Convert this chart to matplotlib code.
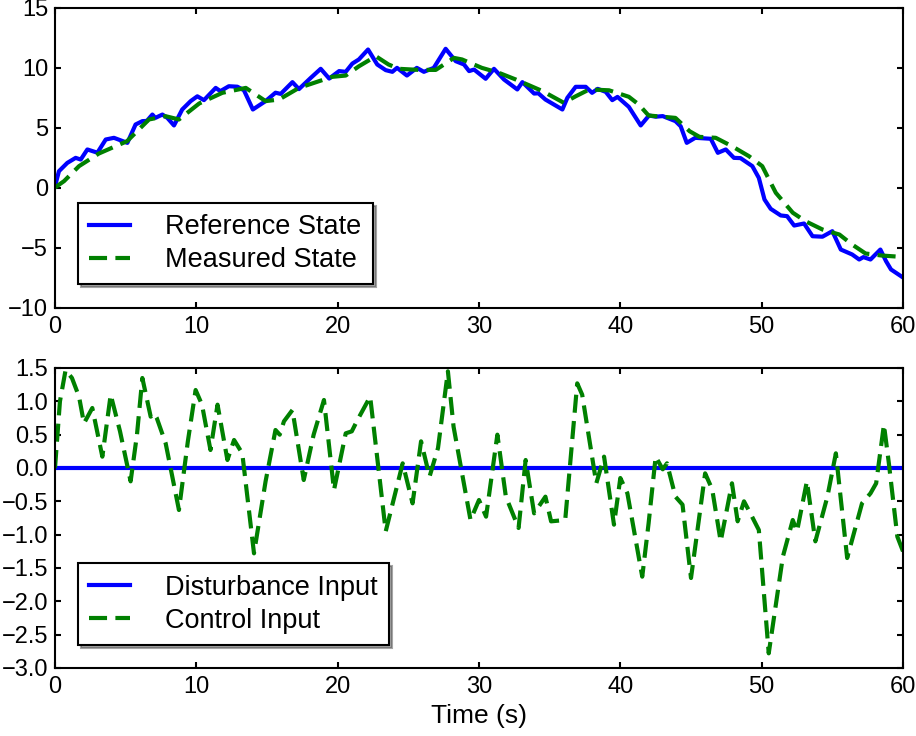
import matplotlib
matplotlib.use("Agg")
import matplotlib.pyplot as plt

# reference / measured state (time in s)
t_ref = [0.0, 0.28, 0.87, 1.46, 1.82, 2.29, 3.0, 3.59, 4.17, 5.12, 5.7, 6.18, 6.5,
         6.89, 7.1, 7.6, 7.95, 8.42, 9.0, 9.6, 10.07, 10.54, 11.37, 11.7, 12.3,
         12.9, 13.37, 14.0, 14.9, 15.6, 15.97, 16.8, 17.26, 18.1, 18.8, 19.4,
         20.1, 20.57, 21.04, 21.5, 22.15, 22.8, 23.4, 23.87, 24.2, 24.9, 25.6,
         26.1, 26.8, 27.64, 28.35, 28.94, 29.3, 29.65, 30.47, 31.06, 31.77,
         32.71, 33.07, 33.9, 34.2, 34.7, 35.9, 36.25, 36.84, 37.55, 38.0, 38.4,
         38.97, 39.43, 39.8, 40.6, 41.44, 42.03, 42.5, 43.0, 43.9, 44.27, 44.7,
         45.3, 46.4, 46.9, 47.46, 48.04, 48.5, 49.34, 49.8, 50.2, 50.64, 51.35,
         51.8, 52.3, 53.0, 53.6, 54.3, 55.0, 55.6, 56.4, 56.9, 57.2, 57.7, 58.4,
         58.8, 59.15, 60.0]
ref_state = [0.1, 1.36, 2.05, 2.47, 2.33, 3.17, 2.9, 4.0, 4.14, 3.72, 5.25, 5.53,
             5.55, 6.08, 5.8, 6.08, 5.8, 5.17, 6.5, 7.2, 7.6, 7.28, 8.3, 8.03, 8.44,
             8.4, 8.1, 6.5, 7.2, 7.9, 7.8, 8.78, 8.2, 9.14, 9.89, 9.08, 9.7, 9.64,
             10.33, 10.67, 11.5, 10.25, 9.78, 9.64, 9.97, 9.33, 9.97, 9.64, 9.97,
             11.56, 10.53, 10.25, 9.7, 9.83, 9.06, 9.89, 9.0, 8.17, 8.78, 7.83,
             7.85, 7.33, 6.5, 7.47, 8.39, 8.39, 7.89, 8.22, 7.97, 7.28, 7.55, 6.72,
             5.17, 6.0, 5.9, 5.95, 5.53, 5.1, 3.72, 4.14, 4.06, 2.89, 3.17, 2.47,
             2.45, 1.78, 0.8, -1.0, -1.78, -2.33, -2.39, -3.17, -3.0, -4.06, -4.1,
             -3.64, -5.17, -5.58, -6.0, -5.8, -6.0, -5.17, -6.14, -6.83, -7.5]

t_meas = [0.0, 0.64, 1.7, 3.1, 5.1, 6.65, 7.83, 8.77, 10.2, 11.84, 13.5, 14.2,
          14.9, 15.85, 17.26, 18.68, 19.6, 20.57, 21.5, 22.7, 23.6, 24.34, 25.76,
          26.94, 28.23, 28.8, 30.2, 31.4, 32.6, 34.5, 36.0, 36.84, 37.8, 39.2,
          40.6, 41.3, 42.0, 43.9, 44.9, 45.6, 46.75, 47.9, 49.1, 50.04, 51.0,
          52.2, 53.1, 54.3, 55.5, 56.4, 57.35, 58.5, 59.5, 60.0]
meas_state = [0.0, 0.53, 1.78, 2.83, 3.86, 5.67, 5.94, 5.67, 7.0, 7.89, 8.3, 7.75,
              7.2, 7.33, 8.3, 8.86, 9.22, 9.33, 10.1, 10.94, 10.25, 9.89, 9.8, 9.8,
              10.8, 10.67, 9.97, 9.56, 9.0, 8.03, 7.06, 7.6, 8.17, 8.1, 7.56, 6.92,
              6.0, 5.8, 4.69, 4.22, 4.14, 3.44, 2.61, 1.78, -0.44, -2.1, -2.81, -3.5,
              -3.92, -4.75, -5.5, -5.67, -5.75, -5.9]

# disturbance / control input
t_dist = [0.0, 60.0]
dist_input = [0.0, 0.0]

t_ctrl = [0.0, 0.35, 0.75, 1.2, 1.7, 2.05, 2.64, 3.35, 3.94, 4.6, 5.35, 5.8, 6.18,
          6.77, 7.0, 7.2, 7.83, 8.77, 9.4, 9.95, 10.4, 11.0, 11.5, 12.2, 12.67,
          13.25, 14.08, 14.9, 15.6, 15.9, 16.2, 16.8, 17.6, 18.3, 19.03, 19.74,
          20.57, 21.0, 21.4, 22.3, 23.4, 24.6, 25.3, 25.9, 26.5, 27.1, 27.8, 28.2,
          29.4, 30.0, 30.5, 31.3, 31.9, 32.8, 33.3, 33.9, 34.7, 35.1, 36.1, 36.95,
          37.3, 38.3, 38.85, 39.55, 40.0, 40.5, 41.55, 42.0, 42.5, 43.0, 43.3, 43.9,
          44.4, 45.0, 46.0, 46.5, 47.1, 47.9, 48.3, 48.75, 49.2, 49.8, 50.5, 51.5,
          52.2, 52.5, 53.2, 53.8, 54.65, 55.25, 56.05, 57.1, 57.7, 58.1, 58.65,
          59.0, 59.6, 60.0]
ctrl_input = [0.0, 1.0, 1.47, 1.35, 1.07, 0.67, 0.9, 0.17, 1.1, 0.55, -0.2, 0.5,
              1.35, 0.77, 0.82, 0.75, 0.37, -0.63, 0.4, 1.17, 0.95, 0.27, 0.95, 0.12,
              0.42, 0.22, -1.28, -0.2, 0.57, 0.5, 0.7, 0.87, -0.18, 0.5, 1.02, -0.33,
              0.52, 0.55, 0.72, 1.07, -0.95, 0.07, -0.53, 0.4, -0.13, 0.3, 1.45, 0.62,
              -0.78, -0.48, -0.73, 0.5, -0.43, -0.9, 0.12, -0.68, -0.43, -0.8, -0.78,
              1.27, 1.1, -0.23, 0.17, -0.85, -0.15, -0.38, -1.63, -0.83, 0.17, -0.02,
              0.07, -0.43, -0.55, -1.65, -0.08, -0.32, -1.1, -0.23, -0.8, -0.5, -0.68,
              -0.93, -2.78, -1.33, -0.78, -0.95, -0.2, -1.1, -0.43, 0.22, -1.35,
              -0.53, -0.38, -0.23, 0.65, 0.07, -1.03, -1.25]

plt.rcParams['font.family'] = ['Liberation Sans', 'DejaVu Sans']
plt.rcParams['lines.scale_dashes'] = False
plt.rcParams['lines.solid_joinstyle'] = 'round'
plt.rcParams['lines.dash_joinstyle'] = 'round'
plt.rcParams['xtick.direction'] = 'in'
plt.rcParams['ytick.direction'] = 'in'
plt.rcParams['xtick.top'] = True
plt.rcParams['ytick.right'] = True
plt.rcParams['xtick.major.size'] = 4
plt.rcParams['ytick.major.size'] = 4
plt.rcParams['xtick.major.pad'] = 6
plt.rcParams['ytick.major.pad'] = 5
plt.rcParams['axes.linewidth'] = 1.5

fig = plt.figure(figsize=(9.16, 7.36), dpi=100)
ax1 = fig.add_axes([55/916, 1 - 307.5/736, 848/916, 300/736])
ax2 = fig.add_axes([55/916, 1 - 668/736, 848/916, 300/736])

ax1.plot(t_ref, ref_state, color='b', lw=3, label='Reference State')
ax1.plot(t_meas, meas_state, color='g', lw=3, dashes=(13, 6), label='Measured State')
ax1.set_xlim(0, 60)
ax1.set_ylim(-10, 15)
ax1.set_yticks([-10, -5, 0, 5, 10, 15])

ax2.plot(t_dist, dist_input, color='b', lw=3, label='Disturbance Input')
ax2.plot(t_ctrl, ctrl_input, color='g', lw=3, dashes=(13, 6), label='Control Input')
ax2.set_xlim(0, 60)
ax2.set_ylim(-3.0, 1.5)
yt = [-3.0, -2.5, -2.0, -1.5, -1.0, -0.5, 0.0, 0.5, 1.0, 1.5]
ax2.set_yticks(yt)
ax2.set_yticklabels([('%.1f' % v).replace('-', '\u2212') for v in yt])
ax2.set_xlabel('Time (s)', fontsize=19)

for ax in (ax1, ax2):
    ax.tick_params(labelsize=17, width=1.5)
    leg = ax.legend(loc='lower left', fontsize=19.5, shadow=True, fancybox=False,
                    borderaxespad=0.85, handlelength=1.5, handletextpad=1.3,
                    labelspacing=0.25, borderpad=0.42)
    leg.get_frame().set_linewidth(1.5)
    leg.get_frame().set_edgecolor('k')

fig.savefig('out.png', dpi=100, facecolor='white')
